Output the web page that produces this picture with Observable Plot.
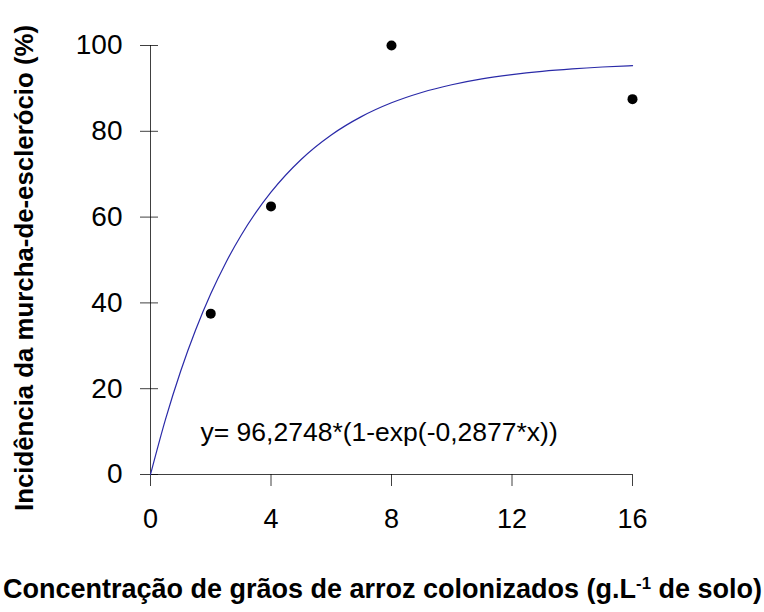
<!DOCTYPE html>
<html>
<head>
<meta charset="utf-8">
<script src="https://cdn.jsdelivr.net/npm/d3@7"></script>
<script src="https://cdn.jsdelivr.net/npm/@observablehq/plot@0.6"></script>
<style>
  html, body { margin: 0; padding: 0; background: #fff; }
  #chart svg { display: block; }
</style>
</head>
<body>
<div id="chart"></div>
<script>
// ---- data ----
const xTicks = [0, 4, 8, 12, 16];
const yTicks = [0, 20, 40, 60, 80, 100];
const obsX = [2, 4, 8, 16];
const obsY = [37.5, 62.5, 100, 87.5];
// fitted curve, read at these x positions
const fitX = [0, 0.5, 1, 1.5, 2, 2.5, 3, 3.5, 4, 5, 6, 7, 8, 9, 10, 11, 12, 13, 14, 15, 16];
const fitY = [0, 12.9, 24.07, 33.74, 42.12, 49.38, 55.66, 61.1, 65.81, 73.43, 79.14, 83.42, 86.64, 89.05, 90.85, 92.21, 93.22, 93.99, 94.56, 94.99, 95.31];
const equation = "y= 96,2748*(1-exp(-0,2877*x))";
const yLabel = "Incidência da murcha-de-esclerócio (%)";
const xLabelMain = "Concentração de grãos de arroz colonizados (g.L";
const xLabelSup = "-1";
const xLabelEnd = " de solo)";

const observed = obsX.map((x, i) => ({x, y: obsY[i]}));
const fitted = fitX.map((x, i) => ({x, y: fitY[i]}));

const font = "'Liberation Sans', Arial, sans-serif";

const chart = Plot.plot({
  width: 764,
  height: 612,
  marginTop: 45,
  marginBottom: 138,
  marginLeft: 150,
  marginRight: 132,
  style: {fontFamily: font, background: "#fff", color: "#000"},
  x: {domain: [0, 16]},
  y: {domain: [0, 100]},
  marks: [
    Plot.axisX({ticks: xTicks, tickSize: 12, tickPadding: 22, fontSize: 27, label: null, stroke: "#000", strokeOpacity: 0.75}),
    Plot.axisY({ticks: yTicks, tickSize: 18, dx: 8, tickFormat: () => "", label: null, stroke: "#000", strokeOpacity: 0.75}),
    Plot.axisY({ticks: yTicks, tickSize: 0, tickPadding: 28, fontSize: 28, label: null}),
    Plot.ruleX([0], {stroke: "#000", strokeOpacity: 0.75}),
    Plot.ruleY([0], {stroke: "#000", strokeOpacity: 0.75}),
    Plot.line(fitted, {x: "x", y: "y", stroke: "#2a2aa8", strokeWidth: 1.2, curve: "monotone-x"}),
    Plot.dot(observed, {x: "x", y: "y", r: 5, fill: "#000", stroke: "none"}),
    Plot.text([equation], {frameAnchor: "bottom-left", text: d => d, textAnchor: "start", lineAnchor: "bottom", dx: 50, dy: -34, fontSize: 26.5, fill: "#000"}),
    Plot.text([yLabel], {frameAnchor: "left", text: d => d, rotate: -90, textAnchor: "middle", fontSize: 25.8, fontWeight: "bold", fill: "#000", dx: -126, dy: 8}),
    Plot.text([xLabelMain], {frameAnchor: "bottom", text: d => d, textAnchor: "middle", lineAnchor: "bottom", dx: -9, dy: 123, fontSize: 27, fontWeight: "bold", fill: "#000"})
  ]
});

document.getElementById("chart").appendChild(chart);

// add superscript to the x-axis caption
d3.select(chart).selectAll("text").each(function() {
  const t = d3.select(this);
  if (this.textContent === xLabelMain) {
    t.text(null);
    t.append("tspan").text(xLabelMain);
    t.append("tspan").attr("dy", "-0.5em").attr("font-size", "0.62em").text(xLabelSup);
    t.append("tspan").attr("dy", "0.31em").text(xLabelEnd);
  }
});
</script>
</body>
</html>
